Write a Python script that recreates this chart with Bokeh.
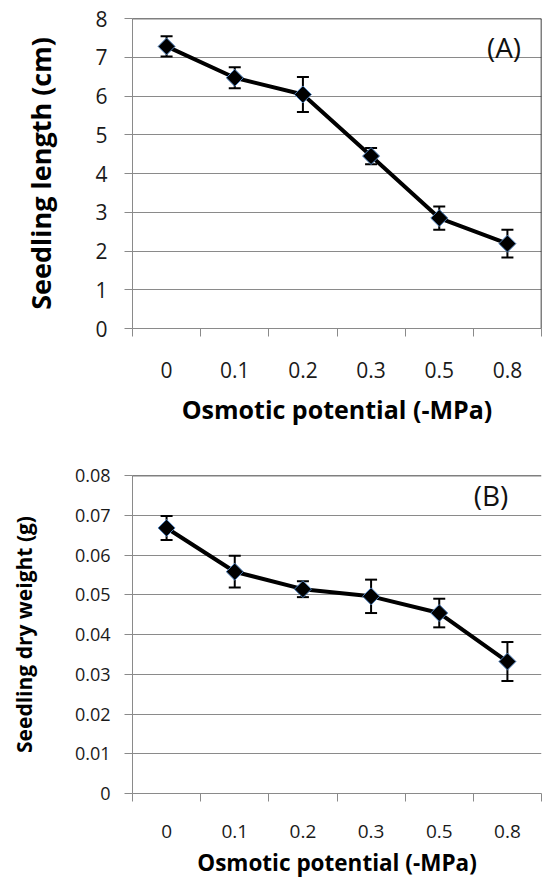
import math
from bokeh.plotting import figure
from bokeh.models import (Range1d, FixedTicker, Whisker, TeeHead,
                          ColumnDataSource, Label, Span)
from bokeh.layouts import column
from bokeh.embed import file_html
from bokeh.resources import INLINE

# ---- data ----
categories = ["0", "0.1", "0.2", "0.3", "0.5", "0.8"]
length_mean = [7.28, 6.47, 6.04, 4.45, 2.85, 2.19]
length_err = [0.26, 0.27, 0.45, 0.21, 0.30, 0.36]
weight_mean = [0.0668, 0.0558, 0.0514, 0.0496, 0.0454, 0.0332]
weight_err = [0.0030, 0.0040, 0.0020, 0.0042, 0.0036, 0.0049]
length_ticks = [0, 1, 2, 3, 4, 5, 6, 7, 8]
length_tick_labels = ["0", "1", "2", "3", "4", "5", "6", "7", "8"]
weight_ticks = [0, 0.01, 0.02, 0.03, 0.04, 0.05, 0.06, 0.07, 0.08]
weight_tick_labels = ["0", "0.01", "0.02", "0.03", "0.04", "0.05", "0.06", "0.07", "0.08"]
x_title = "Osmotic potential (-MPa)"

GRID = "#8a8a8a"
FONT = "Open Sans"


def panel(mean, err, yticks, ylabels, ylabel, tag, tag_pos, width, height,
          mb, sizes, right_border):
    n = len(categories)
    xs = [i + 0.5 for i in range(n)]
    src = ColumnDataSource(dict(
        x=xs, y=mean,
        upper=[m + e for m, e in zip(mean, err)],
        lower=[m - e for m, e in zip(mean, err)]))
    p = figure(width=width, height=height, x_range=Range1d(0, n),
               y_range=Range1d(yticks[0], yticks[-1]),
               output_backend="svg", toolbar_location=None,
               min_border_left=mb[0], min_border_right=mb[1],
               min_border_top=mb[2], min_border_bottom=mb[3])
    p.outline_line_color = None
    p.background_fill_color = "white"
    p.border_fill_color = "white"

    xa = p.xaxis[0]
    xa.ticker = FixedTicker(ticks=xs, minor_ticks=list(range(n + 1)))
    xa.major_label_overrides = {x: c for x, c in zip(xs, categories)}
    xa.major_tick_out = 0
    xa.major_tick_in = 0
    xa.minor_tick_out = 8
    xa.minor_tick_in = 0
    xa.minor_tick_line_color = GRID
    xa.axis_line_color = GRID
    xa.major_label_text_font = FONT
    xa.major_label_text_font_size = sizes["xtick"]
    xa.major_label_text_color = "#1a1a1a"
    xa.major_label_standoff = sizes["xtick_so"]
    xa.axis_label = x_title
    xa.axis_label_text_font = FONT
    xa.axis_label_text_font_style = "bold"
    xa.axis_label_text_font_size = sizes["xlab"]
    xa.axis_label_text_color = "black"
    xa.axis_label_standoff = sizes["xlab_so"]

    ya = p.yaxis[0]
    ya.ticker = FixedTicker(ticks=yticks, minor_ticks=[])
    ya.major_label_overrides = {t: l for t, l in zip(yticks, ylabels)}
    ya.major_tick_out = 8
    ya.major_tick_in = 0
    ya.major_tick_line_color = GRID
    ya.axis_line_color = GRID
    ya.major_label_text_font = FONT
    ya.major_label_text_font_size = sizes["ytick"]
    ya.major_label_text_color = "#1a1a1a"
    ya.major_label_standoff = sizes["ytick_so"]
    ya.axis_label = ylabel
    ya.axis_label_text_font = FONT
    ya.axis_label_text_font_style = "bold"
    ya.axis_label_text_font_size = sizes["ylab"]
    ya.axis_label_text_color = "black"
    ya.axis_label_standoff = sizes["ylab_so"]

    p.xgrid.visible = False
    p.ygrid.ticker = FixedTicker(ticks=yticks)
    p.ygrid.grid_line_color = GRID
    p.ygrid.grid_line_width = 1

    p.add_layout(Span(location=yticks[-1], dimension="width",
                      line_color="black", line_width=1.5))
    if right_border:
        p.add_layout(Span(location=n, dimension="height",
                          line_color="black", line_width=1.5))

    wh = Whisker(base="x", upper="upper", lower="lower", source=src,
                 line_color="black", line_width=2, level="underlay",
                 upper_head=TeeHead(size=12, line_width=2, line_color="black"),
                 lower_head=TeeHead(size=12, line_width=2, line_color="black"))
    p.add_layout(wh)
    p.line("x", "y", source=src, line_color="black", line_width=4)
    p.scatter("x", "y", source=src, marker="square", angle=math.pi / 4,
              size=12, fill_color="black", line_color="#4f81bd", line_width=1)

    p.add_layout(Label(x=tag_pos[0], y=tag_pos[1], text=tag,
                       text_font=FONT, text_font_size="28px",
                       text_align="center", text_baseline="middle",
                       text_color="#111111"))
    return p


pA = panel(length_mean, length_err, length_ticks, length_tick_labels,
           "Seedling length (cm)", "(A)", (5.45, 7.26),
           549, 428, (122, 8, 18, 100),
           dict(xtick="21px", xtick_so=25, xlab="25px", xlab_so=11,
                ytick="21px", ytick_so=17, ylab="27px", ylab_so=33),
           True)
pB = panel(weight_mean, weight_err, weight_ticks, weight_tick_labels,
           "Seedling dry weight (g)", "(B)", (5.26, 0.075),
           549, 452, (132, 0, 47, 86),
           dict(xtick="19px", xtick_so=23, xlab="22.5px", xlab_so=6,
                ytick="18px", ytick_so=14, ylab="21px", ylab_so=34),
           False)

layout = column(pA, pB, spacing=0)
open("out.html", "w").write(file_html(layout, INLINE))
